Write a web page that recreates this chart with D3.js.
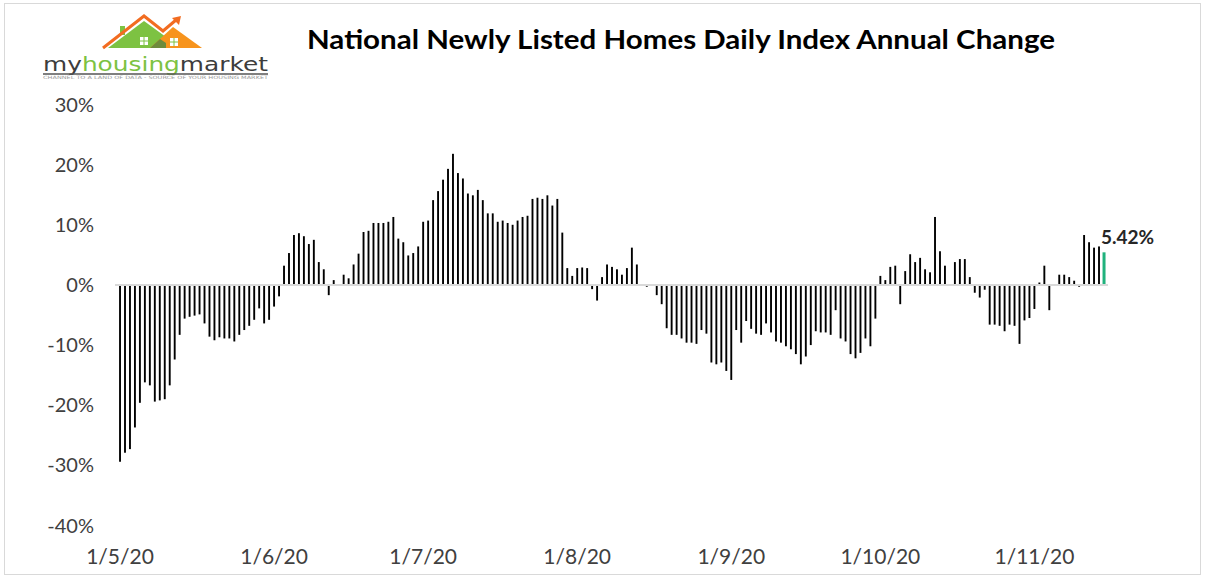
<!DOCTYPE html>
<html>
<head>
<meta charset="utf-8">
<script src="https://cdn.jsdelivr.net/npm/d3@7"></script>
<style>
  body { margin: 0; background: #fff; }
  svg { display: block; }
</style>
</head>
<body>
<svg id="chart"></svg>
<script>
// daily values, 1 May 2020 .. 15 Nov 2020 (annual change, %)
const values = [
  -29.4, -27.9, -27.3, -23.7, -19.6, -16.2, -16.7, -19.4, -19.2, -19.0, -16.7, -12.4, -8.3, -5.6, -5.3, -5.1,
  -4.9, -6.4, -8.6, -9.2, -8.7, -8.9, -8.9, -9.4, -8.3, -7.5, -6.8, -5.8, -3.9, -6.4, -5.8, -3.6, -1.9,
  3.2, 5.3, 8.3, 8.6, 8.1, 6.8, 7.5, 3.8, 2.6, -1.7, 0.8, 0, 1.7, 1.1, 3.4, 5.2, 8.8, 9.0,
  10.3, 10.3, 10.3, 10.5, 11.3, 7.7, 7.1, 4.9, 5.3, 6.4, 10.5, 10.7, 14.1, 15.6,
  17.5, 19.3, 21.8, 18.6, 17.7, 15.2, 14.9, 15.8, 14.1, 11.9, 11.9, 10.5, 10.7, 10.3, 10.0, 10.7,
  11.3, 11.5, 14.3, 14.5, 14.3, 14.9, 13.2, 14.3, 8.7, 2.8, 1.5, 2.8, 2.9, 2.8, -0.7, -2.6,
  1.3, 3.4, 3.0, 2.6, 1.7, 2.8, 6.2, 3.4, 0, -0.3, 0, -1.7, -3.2, -7.2, -8.3, -8.3,
  -8.9, -9.6, -9.6, -9.8, -7.5, -8.1, -12.9, -13.2, -12.9, -14.3, -15.8, -7.5, -9.6, -6.0, -7.3, -8.1,
  -8.3, -6.4, -7.9, -9.4, -9.6, -10.2, -10.7, -11.5, -13.2, -11.9, -10.0, -7.7, -7.9, -7.9, -8.3, -4.2,
  -8.9, -9.4, -11.5, -12.2, -11.3, -8.9, -10.2, -5.6, 1.5, 0.8, 3.0, 3.2, -3.2, 2.3, 5.1, 3.8, 4.5,
  2.6, 2.1, 11.3, 5.6, 3.2, 0, 3.8, 4.3, 4.3, 1.3, -1.3, -2.1, -0.8, -6.6, -6.6, -6.8,
  -7.7, -6.6, -6.8, -9.8, -5.9, -5.5, -4.0, 0.4, 3.2, -4.2, 0, 1.7, 1.7, 1.3, 0.7, -0.3,
  8.3, 7.1, 6.2, 6.4, 5.42
];
const startDate = new Date(2020, 4, 1);
const dates = d3.timeDay.range(startDate, d3.timeDay.offset(startDate, values.length));

const xTickDates = [new Date(2020,4,1), new Date(2020,5,1), new Date(2020,6,1), new Date(2020,7,1),
                    new Date(2020,8,1), new Date(2020,9,1), new Date(2020,10,1)];
const xTickLabels = ["1/5/20", "1/6/20", "1/7/20", "1/8/20", "1/9/20", "1/10/20", "1/11/20"];
const yTicks = [30, 20, 10, 0, -10, -20, -30, -40];

const title = "National Newly Listed Homes Daily Index Annual Change";
const lastLabel = "5.42%";

const width = 1206, height = 579;
const svg = d3.select("#chart").attr("width", width).attr("height", height);

// outer frame
svg.append("rect")
  .attr("x", 4.5).attr("y", 3.5).attr("width", 1196).attr("height", 571)
  .attr("fill", "#fff").attr("stroke", "#d9d9d9");

const x = d3.scaleBand()
  .domain(dates.map(d => +d))
  .range([116, 1108])
  .padding(0.62);

const y = d3.scaleLinear().domain([-40, 30]).range([525.5, 104.5]);

// y labels
svg.append("g").selectAll("text")
  .data(yTicks)
  .join("text")
  .attr("x", 94)
  .attr("y", d => y(d) + 7)
  .attr("text-anchor", "end")
  .attr("font-family", "Lato, 'Open Sans', sans-serif")
  .attr("font-size", 20)
  .attr("fill", "#404040")
  .text(d => d + "%");

// x labels
svg.append("g").selectAll("text")
  .data(xTickDates)
  .join("text")
  .attr("x", d => x(+d) + x.bandwidth() / 2)
  .attr("y", 564)
  .attr("text-anchor", "middle")
  .attr("font-family", "Lato, 'Open Sans', sans-serif")
  .attr("font-size", 21)
  .attr("fill", "#404040")
  .text((d, i) => xTickLabels[i]);

// bars
const lastI = values.length - 1;
svg.append("g").selectAll("rect")
  .data(values)
  .join("rect")
  .attr("x", (d, i) => i === lastI ? x(+dates[i]) - 0.5 : x(+dates[i]))
  .attr("width", (d, i) => i === lastI ? 3 : x.bandwidth())
  .attr("y", d => y(Math.max(0, d)))
  .attr("height", d => Math.abs(y(d) - y(0)))
  .attr("fill", (d, i) => i === lastI ? "#20b27d" : "#000");

// zero line
svg.append("line")
  .attr("x1", 115).attr("x2", 1108)
  .attr("y1", y(0)).attr("y2", y(0))
  .attr("stroke", "#d9d9d9").attr("stroke-width", 2);

// last value label
svg.append("text")
  .attr("x", x(+dates[lastI]) - 2)
  .attr("y", y(values[lastI]) - 8)
  .attr("font-family", "Lato, 'Open Sans', sans-serif")
  .attr("font-weight", "bold")
  .attr("font-size", 19)
  .attr("fill", "#262626")
  .text(lastLabel);

// title
svg.append("text")
  .attr("x", 307)
  .attr("y", 49)
  .attr("textLength", 748)
  .attr("lengthAdjust", "spacingAndGlyphs")
  .attr("font-family", "Lato, 'Open Sans', sans-serif")
  .attr("font-weight", "bold")
  .attr("font-size", 27)
  .attr("fill", "#000")
  .text(title);

// logo
const logo = svg.append("g");
logo.append("polygon")
  .attr("points", "108,48 144,21 166,37 166,48")
  .attr("fill", "#7dc242");
logo.append("rect").attr("x", 120).attr("y", 26).attr("width", 5).attr("height", 9).attr("fill", "#7dc242");
logo.append("polygon")
  .attr("points", "150,48 173,27 202,48")
  .attr("fill", "#f7941d");
logo.append("polygon")
  .attr("points", "150,48 160,39 166,43 166,48")
  .attr("fill", "#6e8b3d");
logo.append("polyline")
  .attr("points", "103,48 144,16 163,31 176,20")
  .attr("fill", "none").attr("stroke", "#f26c21").attr("stroke-width", 3);
logo.append("polygon")
  .attr("points", "172,18 181,16 179,25")
  .attr("fill", "#f26c21");
[[140, 37], [170, 38]].forEach(([wx, wy]) => {
  logo.append("rect").attr("x", wx).attr("y", wy).attr("width", 8).attr("height", 8).attr("fill", "#fff");
  logo.append("line").attr("x1", wx + 4).attr("x2", wx + 4).attr("y1", wy).attr("y2", wy + 8)
    .attr("stroke", "#7dc242").attr("stroke-width", 1);
  logo.append("line").attr("x1", wx).attr("x2", wx + 8).attr("y1", wy + 4).attr("y2", wy + 4)
    .attr("stroke", "#7dc242").attr("stroke-width", 1);
});
const brand = logo.append("text")
  .attr("x", 43).attr("y", 71)
  .attr("textLength", 225)
  .attr("lengthAdjust", "spacingAndGlyphs")
  .attr("font-family", "'DejaVu Sans', sans-serif")
  .attr("font-size", 19);
brand.append("tspan").attr("fill", "#3d3d3d").text("my");
brand.append("tspan").attr("fill", "#7dc242").text("housing");
brand.append("tspan").attr("fill", "#3d3d3d").text("market");
logo.append("line").attr("x1", 43).attr("x2", 268).attr("y1", 74).attr("y2", 74)
  .attr("stroke", "#555").attr("stroke-width", 1.5);
logo.append("text")
  .attr("x", 43).attr("y", 79)
  .attr("textLength", 225)
  .attr("lengthAdjust", "spacingAndGlyphs")
  .attr("font-family", "'DejaVu Sans', sans-serif")
  .attr("font-size", 4.5)
  .attr("fill", "#999")
  .text("CHANNEL TO A LAND OF DATA - SOURCE OF YOUR HOUSING MARKET");
</script>
</body>
</html>
